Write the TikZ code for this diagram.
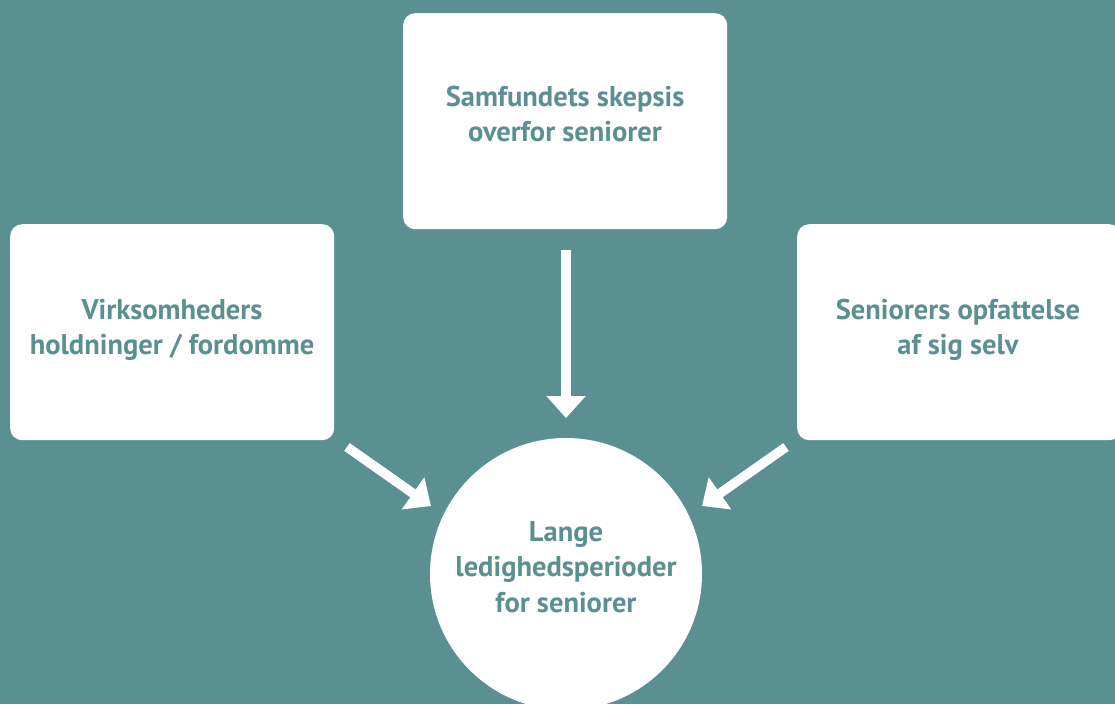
\documentclass[tikz,border=0pt]{standalone}
\usepackage{fontspec}
\setmainfont{PT Sans}
\usetikzlibrary{arrows.meta}
\definecolor{teal}{HTML}{5B9093}
\begin{document}
\begin{tikzpicture}[x=1pt,y=-1pt,
  box/.style={fill=white,rounded corners=12pt,minimum width=324pt,minimum height=216pt,anchor=north west,inner sep=0pt},
  lbl/.style={text=teal,font=\bfseries\fontsize{28.5}{35.5}\selectfont,align=center},
  arr/.style={draw=white,line width=9.5pt,-{Triangle[width=38pt,length=22pt]}}]
\fill[teal] (0,0) rectangle (1115,704);
\useasboundingbox (0,0) rectangle (1115,704);
\begin{scope}
\clip (0,0) rectangle (1115,704);
\node[box] (top) at (403,13) {};
\node[box] (left) at (10,224) {};
\node[box] (right) at (797,224) {};
\node[fill=white,circle,minimum size=272pt,inner sep=0pt] (circ) at (566,574) {};
\end{scope}
\node[lbl] (ttop) at (565,114) {Samfundets skepsis\\overfor seniorer};
\node[lbl] (tleft) at (172,330) {Virksomheders\\holdninger / fordomme};
\node[lbl] (tright) at (958,330) {Seniorers opfattelse\\af sig selv};
\node[lbl,text depth=0pt] (tcirc) at (566,567) {Lange\\ledighedsperioder\\for seniorer};
\coordinate (ta) at (566,250);
\coordinate (tb) at (566,418);
\coordinate (la) at (347,447);
\coordinate (lb) at (431,506);
\coordinate (ra) at (786,447);
\coordinate (rb) at (702,506);
\draw[arr] (ta) -- (tb);
\draw[arr] (la) -- (lb);
\draw[arr] (ra) -- (rb);
\end{tikzpicture}
\end{document}
